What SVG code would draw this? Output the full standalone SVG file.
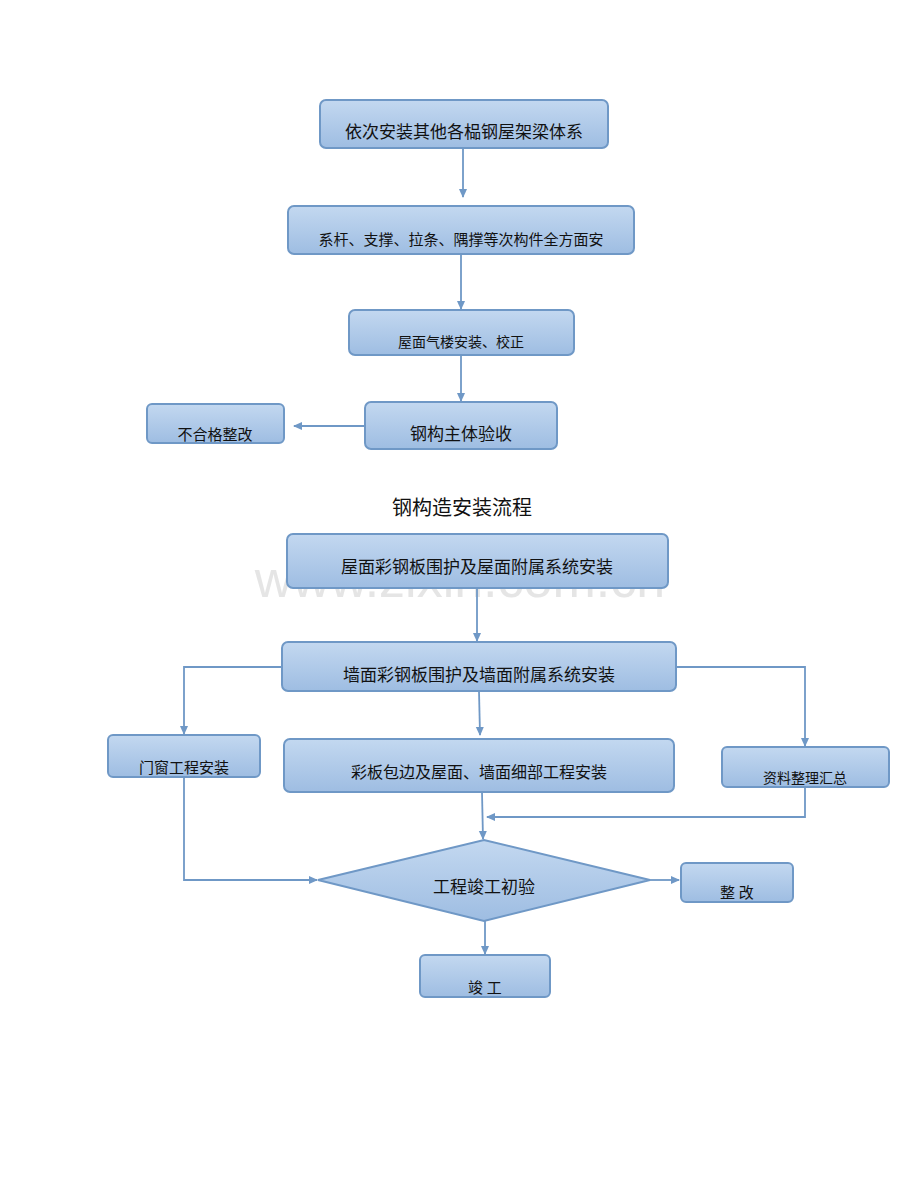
<svg xmlns="http://www.w3.org/2000/svg" width="920" height="1191" viewBox="0 0 920 1191">
<style>
.n{fill:url(#g);stroke:#6f98c6;stroke-width:2}
.t{font-family:"Liberation Serif","Noto Sans CJK SC",serif;fill:#111;text-anchor:middle}
.c{fill:none;stroke:#6f98c6;stroke-width:1.8;marker-end:url(#a)}
</style>
<defs>
<linearGradient id="g" x1="0" y1="0" x2="0" y2="1"><stop offset="0" stop-color="#c3d8f0"/><stop offset="1" stop-color="#9ebde2"/></linearGradient>
<marker id="a" markerWidth="10" markerHeight="10" refX="8" refY="5" orient="auto" markerUnits="userSpaceOnUse"><path d="M0,1 L9,5 L0,9 z" fill="#6f98c6"/></marker>
</defs>
<rect width="920" height="1191" fill="#fff"/>
<text x="460" y="597" font-family="Liberation Sans,sans-serif" font-size="52" fill="#ccc" fill-opacity="0.5" text-anchor="middle">www.zixin.com.cn</text>
<g id="n1"><rect class="n" x="320" y="100" width="288" height="48" rx="6"/><text class="t" x="464" y="138" style="font-size:17px">依次安装其他各榀钢屋架梁体系</text></g>
<g id="n2"><rect class="n" x="288" y="206" width="346" height="48" rx="6"/><text class="t" x="461" y="245" style="font-size:15px">系杆、支撑、拉条、隅撑等次构件全方面安</text></g>
<g id="n3"><rect class="n" x="349" y="310" width="225" height="45" rx="6"/><text class="t" x="461" y="347" style="font-size:14px">屋面气楼安装、校正</text></g>
<g id="n4"><rect class="n" x="365" y="402" width="192" height="47" rx="6"/><text class="t" x="461" y="440" style="font-size:17px">钢构主体验收</text></g>
<g id="n5"><rect class="n" x="147" y="404" width="137" height="39" rx="5"/><text class="t" x="215" y="440" style="font-size:15px">不合格整改</text></g>
<text class="t" x="462" y="515" style="font-size:20px">钢构造安装流程</text>
<g id="n6"><rect class="n" x="287" y="534" width="381" height="54" rx="6"/><text class="t" x="477" y="573" style="font-size:17px">屋面彩钢板围护及屋面附属系统安装</text></g>
<g id="n7"><rect class="n" x="282" y="642" width="394" height="49" rx="6"/><text class="t" x="479" y="681" style="font-size:17px">墙面彩钢板围护及墙面附属系统安装</text></g>
<g id="n8"><rect class="n" x="108" y="735" width="152" height="42" rx="5"/><text class="t" x="184" y="773" style="font-size:15px">门窗工程安装</text></g>
<g id="n9"><rect class="n" x="284" y="739" width="390" height="53" rx="6"/><text class="t" x="479" y="778" style="font-size:16px">彩板包边及屋面、墙面细部工程安装</text></g>
<g id="n10"><rect class="n" x="722" y="747" width="167" height="40" rx="5"/><text class="t" x="805" y="783" style="font-size:14px">资料整理汇总</text></g>
<g id="n11"><path class="n" d="M318,880 L484,840 L650,880 L484,921 Z"/><text class="t" x="484" y="893" style="font-size:17px">工程竣工初验</text></g>
<g id="n12"><rect class="n" x="681" y="863" width="112" height="39" rx="5"/><text class="t" x="737" y="898" style="font-size:15px">整  改</text></g>
<g id="n13"><rect class="n" x="420" y="955" width="130" height="42" rx="5"/><text class="t" x="485" y="993" style="font-size:15px">竣  工</text></g>
<g id="connectors">
<path class="c" d="M463,148 V197"/>
<path class="c" d="M461,254 V309"/>
<path class="c" d="M461,355 V401"/>
<path class="c" d="M365,426 H294"/>
<path class="c" d="M477,588 V641"/>
<path class="c" d="M282,667 H184 V734"/>
<path class="c" d="M676,667 H805 V746"/>
<path class="c" d="M479,691 L480,735"/>
<path class="c" d="M184,777 V880 H317"/>
<path class="c" d="M805,787 V817 H487"/>
<path class="c" d="M482,792 L483,839"/>
<path class="c" d="M650,880 H679"/>
<path class="c" d="M485,921 V954"/>
</g>
</svg>
